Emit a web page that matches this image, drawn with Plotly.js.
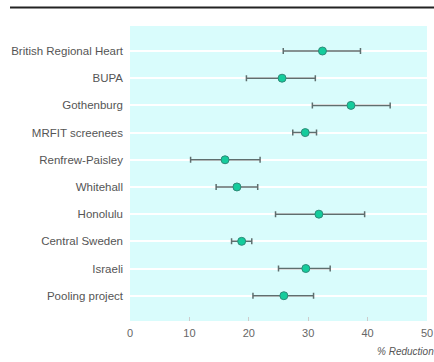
<!DOCTYPE html>
<html><head><meta charset="utf-8">
<script src="https://cdn.plot.ly/plotly-3.0.1.min.js"></script>
<style>html,body{margin:0;padding:0;background:#fff;}#chart{width:434px;height:362px;}</style>
</head><body><div id="chart"></div>
<script>
const studies = ["British Regional Heart","BUPA","Gothenburg","MRFIT screenees","Renfrew-Paisley","Whitehall","Honolulu","Central Sweden","Israeli","Pooling project"];
const reduction = [32.4, 25.6, 37.2, 29.5, 16.0, 18.0, 31.8, 18.8, 29.6, 25.9];
const lower = [25.8, 19.6, 30.7, 27.4, 10.2, 14.5, 24.5, 17.1, 25.0, 20.7];
const upper = [38.8, 31.2, 43.8, 31.4, 21.9, 21.5, 39.5, 20.5, 33.7, 30.9];
const xTicks = [0,10,20,30,40,50];

const fontFam = '"Liberation Sans",Arial,sans-serif';
const trace = {
  type: 'scatter', mode: 'markers',
  x: reduction, y: studies,
  marker: {color: '#14cc9c', size: 8, line: {color: '#2f8a78', width: 1}},
  error_x: {type: 'data', symmetric: false,
    array: reduction.map((v,i)=>upper[i]-v),
    arrayminus: reduction.map((v,i)=>v-lower[i]),
    color: '#5f6e6e', thickness: 1.5, width: 3},
  hoverinfo: 'skip'
};
const layout = {
  width: 434, height: 362,
  margin: {l: 130, r: 7, t: 26, b: 41},
  paper_bgcolor: '#ffffff', plot_bgcolor: '#d9fcfc',
  showlegend: false,
  font: {family: fontFam, size: 11, color: '#555'},
  xaxis: {range: [0, 50], tickvals: xTicks, ticks: 'inside', ticklen: 4, tickcolor: '#ccc',
    ticklabelstandoff: 4,
    showgrid: false, zeroline: false, showline: false, tickfont: {size: 11, color: '#666'}},
  yaxis: {type: 'category', categoryorder: 'array', categoryarray: studies,
    autorange: false, range: [9.93, -0.92], showgrid: true, gridcolor: '#ffffff', gridwidth: 2,
    ticks: '', ticklen: 0, ticklabelstandoff: 6, showline: false, zeroline: false,
    tickfont: {size: 11.5, color: '#555'}},
  shapes: [{type: 'line', xref: 'paper', yref: 'paper', x0: -0.404, x1: 1.03, y0: 1.063, y1: 1.063,
    line: {color: '#222', width: 2}}],
  annotations: [{text: '% Reduction', xref: 'paper', yref: 'paper', x: 1.03, y: -0.105,
    xanchor: 'right', yanchor: 'middle', showarrow: false,
    font: {family: fontFam, size: 10, color: '#555', style: 'italic'}}]
};
Plotly.newPlot('chart', [trace], layout, {displayModeBar: false, staticPlot: true});
</script></body></html>
